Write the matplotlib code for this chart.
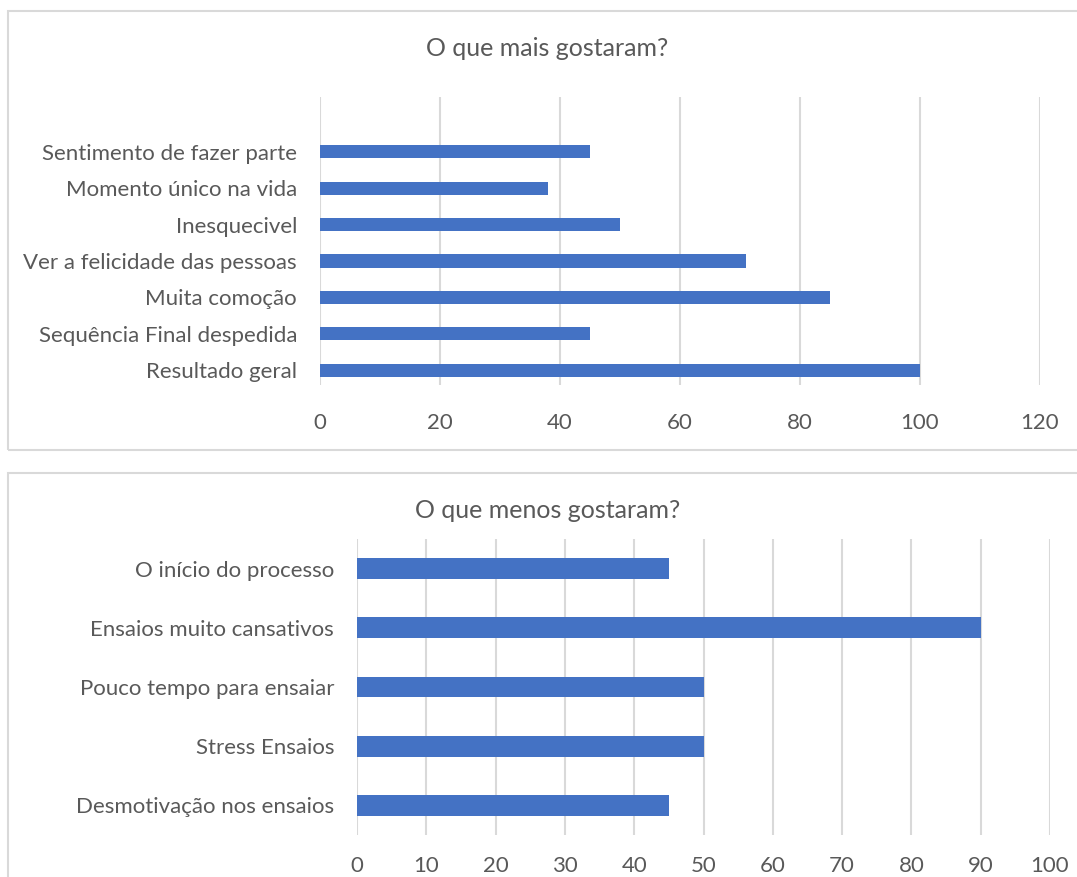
import matplotlib.pyplot as plt
from matplotlib.patches import Rectangle

plt.rcParams['font.family'] = ['Lato', 'DejaVu Sans']

# top chart data (bottom to top, as drawn by barh)
mais_labels = ['Resultado geral', 'Sequência Final despedida', 'Muita comoção',
               'Ver a felicidade das pessoas', 'Inesquecivel',
               'Momento único na vida', 'Sentimento de fazer parte']
mais_values = [100, 45, 85, 71, 50, 38, 45]

# bottom chart data
menos_labels = ['Desmotivação nos ensaios', 'Stress Ensaios',
                'Pouco tempo para ensaiar', 'Ensaios muito cansativos',
                'O início do processo']
menos_values = [45, 50, 50, 90, 45]

W, H = 1077, 877
BAR = '#4472C4'
TXT = '#595959'
GRID = '#D9D9D9'
FS = 16

fig = plt.figure(figsize=(W / 100, H / 100), dpi=100)


def px_rect(x0, y0, x1, y1):
    # pixel box (top-left origin) -> figure fraction [left, bottom, width, height]
    return [x0 / W, 1 - y1 / H, (x1 - x0) / W, (y1 - y0) / H]


# chart frames
for (x0, y0, x1, y1) in [(8, 11, 1090, 450), (8, 473, 1090, 900)]:
    l, b, w, h = px_rect(x0, y0, x1, y1)
    fig.patches.append(Rectangle((l, b), w, h, transform=fig.transFigure,
                                 fill=False, edgecolor=GRID, linewidth=1.5))


def style(ax, ticks):
    ax.set_xticks(ticks)
    ax.grid(axis='x', color=GRID, linewidth=1.5)
    ax.set_axisbelow(True)
    for s in ax.spines.values():
        s.set_visible(False)
    ax.tick_params(length=0, colors=TXT, labelsize=FS)


# O que mais gostaram?
ax1 = fig.add_axes(px_rect(320, 97, 1040, 385))
ax1.barh(range(len(mais_values)), mais_values, height=0.36, color=BAR)
ax1.set_yticks(range(len(mais_labels)))
ax1.set_yticklabels(mais_labels)
ax1.set_xlim(0, 120)
ax1.set_ylim(-0.41, 7.51)
style(ax1, range(0, 121, 20))
ax1.tick_params(axis='x', pad=20)
ax1.tick_params(axis='y', pad=16.5)
fig.text(547 / W, 1 - 48 / H, 'O que mais gostaram?', ha='center', va='center',
         color=TXT, fontsize=18)

# O que menos gostaram?
ax2 = fig.add_axes(px_rect(357, 539, 1050, 835))
ax2.barh(range(len(menos_values)), menos_values, height=0.35, color=BAR)
ax2.set_yticks(range(len(menos_labels)))
ax2.set_yticklabels(menos_labels)
ax2.set_xlim(0, 100)
ax2.set_ylim(-0.5, 4.5)
style(ax2, range(0, 101, 10))
ax2.tick_params(axis='x', pad=15)
ax2.tick_params(axis='y', pad=16.5)
fig.text(548 / W, 1 - 511 / H, 'O que menos gostaram?', ha='center', va='center',
         color=TXT, fontsize=18)

fig.savefig('out.png', dpi=100)
